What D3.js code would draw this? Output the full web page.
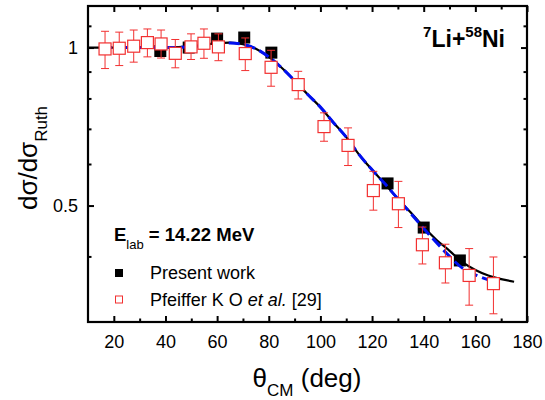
<!DOCTYPE html>
<html>
<head>
<meta charset="utf-8">
<script src="https://cdn.jsdelivr.net/npm/d3@7"></script>
<style>
  html, body { margin: 0; padding: 0; background: #fff; }
  svg { display: block; font-family: Arial, "Liberation Sans", sans-serif; }
</style>
</head>
<body>
<svg id="chart" width="545" height="400"></svg>
<script>
// Present work: angle (deg), dσ/dσRuth
const presentAngle = [38, 49, 60, 70.5, 81, 126, 140, 154];
const presentRatio = [0.985, 1.0, 1.04, 1.045, 0.978, 0.551, 0.454, 0.393];

// Pfeiffer K O et al. [29]: angle, value, lower and upper error
const pfeifferAngle = [16.6, 22.1, 27.7, 33, 38.3, 43.8, 49.9, 54.9, 60.5, 70.9,
                       80.9, 91.4, 101.4, 110.7, 120.5, 130.2, 139.5, 148.4, 157.6, 167];
const pfeifferRatio = [0.994, 0.997, 1.006, 1.022, 1.016, 0.975, 1.003, 1.019, 1.003, 0.974,
                       0.917, 0.85, 0.707, 0.651, 0.534, 0.504, 0.421, 0.389, 0.368, 0.355];
const pfeifferLow   = [0.912, 0.924, 0.938, 0.96, 0.955, 0.915, 0.949, 0.954, 0.944, 0.904,
                       0.844, 0.798, 0.663, 0.596, 0.49, 0.454, 0.387, 0.356, 0.323, 0.311];
const pfeifferHigh  = [1.074, 1.07, 1.08, 1.085, 1.08, 1.036, 1.062, 1.085, 1.062, 1.043,
                       0.988, 0.901, 0.751, 0.703, 0.581, 0.556, 0.455, 0.422, 0.414, 0.399];

// Calculated curves
const fitAngle = [10, 20, 30, 40, 50, 55, 60, 65, 70, 75, 80, 85, 90, 95, 100, 105, 110, 115,
                  120, 125, 130, 135, 140, 145, 150, 155, 160, 165, 170, 175];
const fitRatio = [1.0, 1.0, 1.0, 1.0, 1.005, 1.012, 1.02, 1.022, 1.015, 0.995, 0.96, 0.915,
                  0.865, 0.815, 0.77, 0.72, 0.675, 0.625, 0.585, 0.55, 0.515, 0.485, 0.455,
                  0.43, 0.41, 0.39, 0.377, 0.368, 0.362, 0.358];
const dashAngle = [15, 20, 30, 40, 50, 55, 60, 65, 70, 75, 80, 85, 90, 95, 100, 105, 110, 115,
                   120, 125, 130, 135, 140, 145, 150, 155, 160, 165, 169];
const dashRatio = [1.0, 1.0, 1.0, 1.0, 1.004, 1.01, 1.017, 1.02, 1.014, 0.995, 0.96, 0.915,
                   0.865, 0.815, 0.77, 0.72, 0.675, 0.625, 0.585, 0.55, 0.515, 0.483, 0.452,
                   0.425, 0.4, 0.38, 0.369, 0.361, 0.356];

const xMajor = [20, 40, 60, 80, 100, 120, 140, 160, 180];
const xMinor = [30, 50, 70, 90, 110, 130, 150, 170];
const yMajor = [0.5, 1];
const yMinor = [0.4, 0.6, 0.7, 0.8, 0.9, 1.1];

const svg = d3.select("#chart");
const m = { left: 88, right: 18, top: 6, bottom: 78 };
const W = 545, H = 400;
const iw = W - m.left - m.right, ih = H - m.top - m.bottom;

const x = d3.scaleLinear().domain([10, 180]).range([m.left, m.left + iw]);
const y = d3.scaleLog().domain([0.3, 1.2]).range([m.top + ih, m.top]);

const red = "#f23030";

// Black squares of present work
const g = svg.append("g");
g.selectAll("rect.present").data(presentAngle).join("rect")
  .attr("class", "present")
  .attr("x", (d) => x(d) - 6).attr("y", (d, i) => y(presentRatio[i]) - 6)
  .attr("width", 12).attr("height", 12).attr("fill", "#000");

// Curves
const line = d3.line().curve(d3.curveMonotoneX);
g.append("path")
  .attr("d", line(fitAngle.map((a, i) => [x(a), y(fitRatio[i])])))
  .attr("fill", "none").attr("stroke", "#000").attr("stroke-width", 2.2);
g.append("path")
  .attr("d", line(dashAngle.map((a, i) => [x(a), y(dashRatio[i])])))
  .attr("fill", "none").attr("stroke", "#0010f0").attr("stroke-width", 3)
  .attr("stroke-dasharray", "11,5");

// Pfeiffer points with error bars
const pf = g.selectAll("g.pf").data(pfeifferAngle).join("g").attr("class", "pf");
pf.append("line")
  .attr("x1", (d) => x(d)).attr("x2", (d) => x(d))
  .attr("y1", (d, i) => y(pfeifferLow[i])).attr("y2", (d, i) => y(pfeifferHigh[i]))
  .attr("stroke", red).attr("stroke-width", 1);
[pfeifferLow, pfeifferHigh].forEach((arr) => {
  pf.append("line")
    .attr("x1", (d) => x(d) - 4).attr("x2", (d) => x(d) + 4)
    .attr("y1", (d, i) => y(arr[i])).attr("y2", (d, i) => y(arr[i]))
    .attr("stroke", red).attr("stroke-width", 1);
});
pf.append("rect")
  .attr("x", (d) => x(d) - 6).attr("y", (d, i) => y(pfeifferRatio[i]) - 6)
  .attr("width", 12).attr("height", 12)
  .attr("fill", "#fff").attr("stroke", red).attr("stroke-width", 1.2);

// Axes: ticks point inward on all four sides
function styleAxis(sel) {
  sel.select(".domain").remove();
  sel.selectAll(".tick line").attr("stroke", "#000").attr("stroke-width", 2);
  sel.selectAll(".tick text").attr("fill", "#000").attr("font-size", 18)
    .attr("font-family", "Arial, 'Liberation Sans', sans-serif");
}
const axBottom = svg.append("g").attr("transform", `translate(0,${m.top + ih})`);
axBottom.append("g").call(d3.axisBottom(x).tickValues(xMajor).tickSize(-6).tickPadding(13).tickFormat(d3.format("d"))).call(styleAxis);
axBottom.append("g").call(d3.axisBottom(x).tickValues(xMinor).tickSize(-3.5).tickFormat("")).call(styleAxis);
const axTop = svg.append("g").attr("transform", `translate(0,${m.top})`);
axTop.append("g").call(d3.axisTop(x).tickValues(xMajor).tickSize(-6).tickFormat("")).call(styleAxis);
axTop.append("g").call(d3.axisTop(x).tickValues(xMinor).tickSize(-3.5).tickFormat("")).call(styleAxis);
const axLeft = svg.append("g").attr("transform", `translate(${m.left},0)`);
axLeft.append("g").call(d3.axisLeft(y).tickValues(yMajor).tickSize(-6).tickPadding(10).tickFormat((d) => String(d))).call(styleAxis);
axLeft.append("g").call(d3.axisLeft(y).tickValues(yMinor).tickSize(-3.5).tickFormat("")).call(styleAxis);
const axRight = svg.append("g").attr("transform", `translate(${m.left + iw},0)`);
axRight.append("g").call(d3.axisRight(y).tickValues(yMajor).tickSize(-6).tickFormat("")).call(styleAxis);
axRight.append("g").call(d3.axisRight(y).tickValues(yMinor).tickSize(-3.5).tickFormat("")).call(styleAxis);

// Frame
svg.append("rect").attr("x", m.left).attr("y", m.top).attr("width", iw).attr("height", ih)
  .attr("fill", "none").attr("stroke", "#000").attr("stroke-width", 2.2);

// Reaction label
const rl = svg.append("text").attr("x", 505).attr("y", 47).attr("text-anchor", "end")
  .attr("font-weight", "bold").attr("font-size", 23).attr("fill", "#000");
rl.append("tspan").text("7").attr("font-size", 15).attr("dy", -10);
rl.append("tspan").text("Li+").attr("dy", 10);
rl.append("tspan").text("58").attr("font-size", 15).attr("dy", -10);
rl.append("tspan").text("Ni").attr("dy", 10);

// Beam energy
const el = svg.append("text").attr("x", 114).attr("y", 241)
  .attr("font-weight", "bold").attr("font-size", 18.5).attr("fill", "#000");
el.append("tspan").text("E");
el.append("tspan").text("lab").attr("font-size", 13).attr("font-weight", "normal").attr("dy", 8);
el.append("tspan").text(" = 14.22 MeV").attr("dy", -8);

// Legend
svg.append("rect").attr("x", 115).attr("y", 269).attr("width", 8).attr("height", 8).attr("fill", "#000");
svg.append("text").attr("x", 150).attr("y", 279).attr("font-size", 18).attr("fill", "#000").text("Present work");
svg.append("rect").attr("x", 115.5).attr("y", 296).attr("width", 7).attr("height", 7)
  .attr("fill", "#fff").attr("stroke", red).attr("stroke-width", 1);
const lt = svg.append("text").attr("x", 150).attr("y", 306).attr("font-size", 18).attr("fill", "#000");
lt.append("tspan").text("Pfeiffer K O ");
lt.append("tspan").text("et al.").attr("font-style", "italic");
lt.append("tspan").text(" [29]");

// Axis titles
const xt = svg.append("text").attr("x", 307).attr("y", 387).attr("text-anchor", "middle")
  .attr("font-size", 26).attr("fill", "#000");
xt.append("tspan").text("θ");
xt.append("tspan").text("CM").attr("font-size", 17).attr("dy", 9);
xt.append("tspan").text(" (deg)").attr("dy", -9);

const yt = svg.append("text").attr("transform", "translate(37,158) rotate(-90)")
  .attr("text-anchor", "middle").attr("font-size", 26).attr("fill", "#000");
yt.append("tspan").text("dσ/dσ");
yt.append("tspan").text("Ruth").attr("font-size", 17).attr("dy", 10);
</script>
</body>
</html>
